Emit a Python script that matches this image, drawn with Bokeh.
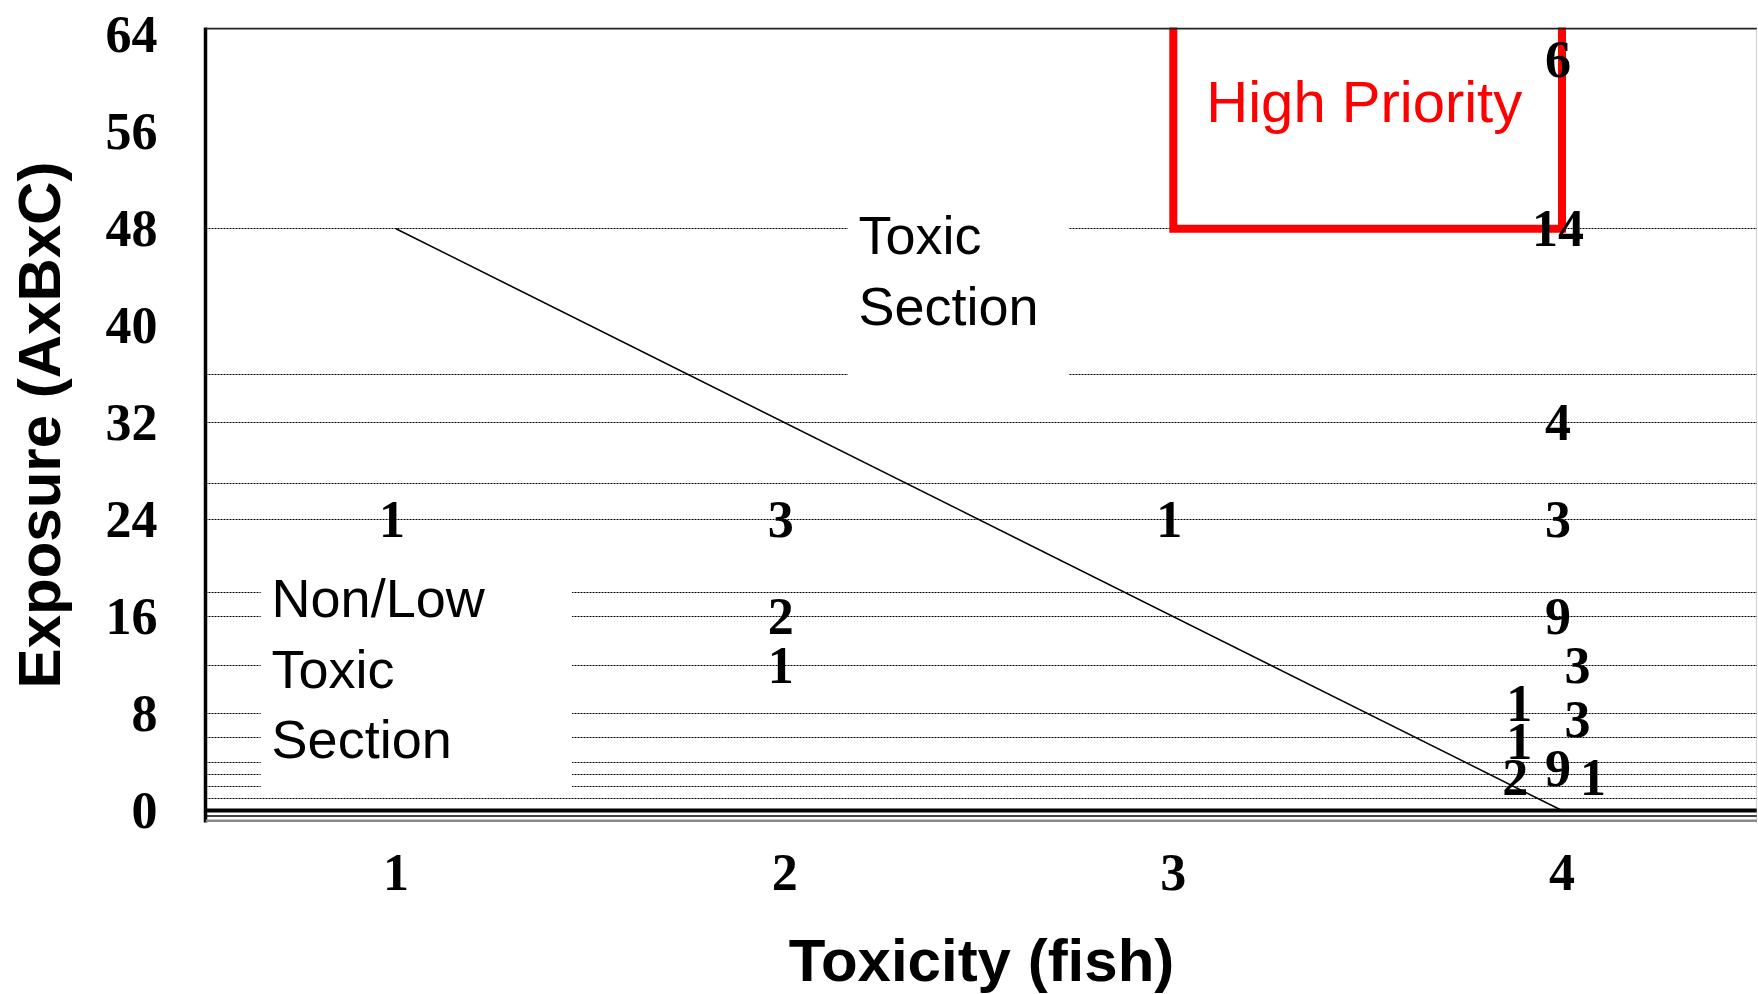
from bokeh.plotting import figure
from bokeh.models import Range1d, FixedTicker, Span, Label, ColumnDataSource
from bokeh.core.properties import value
from bokeh.embed import file_html
from bokeh.resources import INLINE

# ---- data ----
x_ticks = [1, 2, 3, 4]
y_ticks = [0, 8, 16, 24, 32, 40, 48, 56, 64]
grid_levels = [1, 2, 3, 4, 6, 8, 12, 16, 18, 24, 27, 32, 36, 48]

count_x = [4, 4, 4, 1, 2, 3, 4, 2, 4, 2, 4.05, 3.90, 4.05, 3.90, 4, 3.89, 4.09]
count_y = [62, 48, 32, 24, 24, 24, 24, 16, 16, 12, 12, 8.8, 7.5, 5.7, 3.5, 2.7, 2.7]
count_text = ["6", "14", "4", "1", "3", "1", "3", "2", "9", "1", "3",
              "1", "3", "1", "9", "2", "1"]

divider_x = [1, 4]
divider_y = [48, 0]

priority_x = [3, 3, 4, 4]
priority_y = [70, 48, 48, 70]

SERIF = "Liberation Serif"
SANS = "Liberation Sans"

p = figure(frame_width=1552, frame_height=795,
           x_range=Range1d(0.51, 4.503), y_range=Range1d(-0.99, 64.6),
           output_backend="svg", toolbar_location=None,
           min_border_left=205, min_border_right=0, min_border_top=27,
           min_border_bottom=0)
p.outline_line_color = None
p.background_fill_color = "white"
p.border_fill_color = "white"

# axes
p.yaxis.ticker = FixedTicker(ticks=y_ticks)
p.xaxis.ticker = FixedTicker(ticks=x_ticks)
for ax in (p.xaxis, p.yaxis):
    ax.major_tick_out = 0
    ax.major_tick_in = 0
    ax.minor_tick_out = 0
    ax.minor_tick_in = 0
    ax.major_label_text_font = SERIF
    ax.major_label_text_font_style = "bold"
    ax.major_label_text_font_size = "52px"
    ax.major_label_text_color = "black"
    ax.axis_label_text_font = SANS
    ax.axis_label_text_font_style = "bold"
    ax.axis_label_text_font_size = "60px"
    ax.axis_label_text_color = "black"
p.yaxis.axis_line_width = 3.5
p.yaxis.axis_line_color = "black"
p.yaxis.major_label_standoff = 48
p.yaxis.axis_label = "Exposure (AxBxC)"
p.yaxis.axis_label_standoff = 30
p.xaxis.axis_line_color = None
p.xaxis.major_label_standoff = 32
p.xaxis.axis_label = "Toxicity (fish)"
p.xaxis.axis_label_standoff = 34
p.xaxis.axis_label_text_line_height = 0.85

# grid
p.xgrid.visible = False
p.ygrid.ticker = FixedTicker(ticks=grid_levels)
p.ygrid.grid_line_color = "black"
p.ygrid.grid_line_dash = "2 1"
p.ygrid.grid_line_width = 1

# frame borders
p.add_layout(Span(location=0, dimension="width", line_color="black", line_width=4))
p.add_layout(Span(location=-0.45, dimension="width", line_color="black", line_width=1.5))
p.add_layout(Span(location=-0.85, dimension="width", line_color="#888888", line_width=2.5))
p.add_layout(Span(location=64.52, dimension="width", line_color="#222222", line_width=2))
p.add_layout(Span(location=4.5, dimension="height", line_color="#999999",
                  line_width=1, line_dash="1 1"))

# white text boxes covering grid
p.quad(left=[0.652, 2.163], right=[1.453, 2.731], bottom=[1.4, 35.8], top=[20.5, 50.5],
       fill_color="white", line_color=None)

# divider line
p.line(divider_x, divider_y, line_color="black", line_width=1.5)

# high priority box
p.line(priority_x, priority_y, line_color="#ff0000", line_width=8, line_join="miter")

# count labels
src = ColumnDataSource(dict(x=count_x, y=count_y, t=count_text))
p.text(x="x", y="y", text="t", source=src, text_font=value(SERIF),
       text_font_style="bold", text_font_size="52px", text_color="black",
       text_align="center", text_baseline="middle", x_offset=-4)

# annotations
for txt, yy in zip(["Non/Low", "Toxic", "Section"], [17.55, 11.7, 5.9]):
    p.add_layout(Label(x=0.68, y=yy, text=txt, text_font=SANS, text_font_size="54px",
                       text_color="black", text_baseline="middle", text_align="left"))
for txt, yy in zip(["Toxic", "Section"], [47.5, 41.6]):
    p.add_layout(Label(x=2.19, y=yy, text=txt, text_font=SANS, text_font_size="54px",
                       text_color="black", text_baseline="middle", text_align="left"))
p.add_layout(Label(x=3.085, y=58.5, text="High Priority", text_font=SANS,
                   text_font_size="58px", text_color="#ff0000",
                   text_baseline="middle", text_align="left"))

open("out.html", "w").write(file_html(p, INLINE))
